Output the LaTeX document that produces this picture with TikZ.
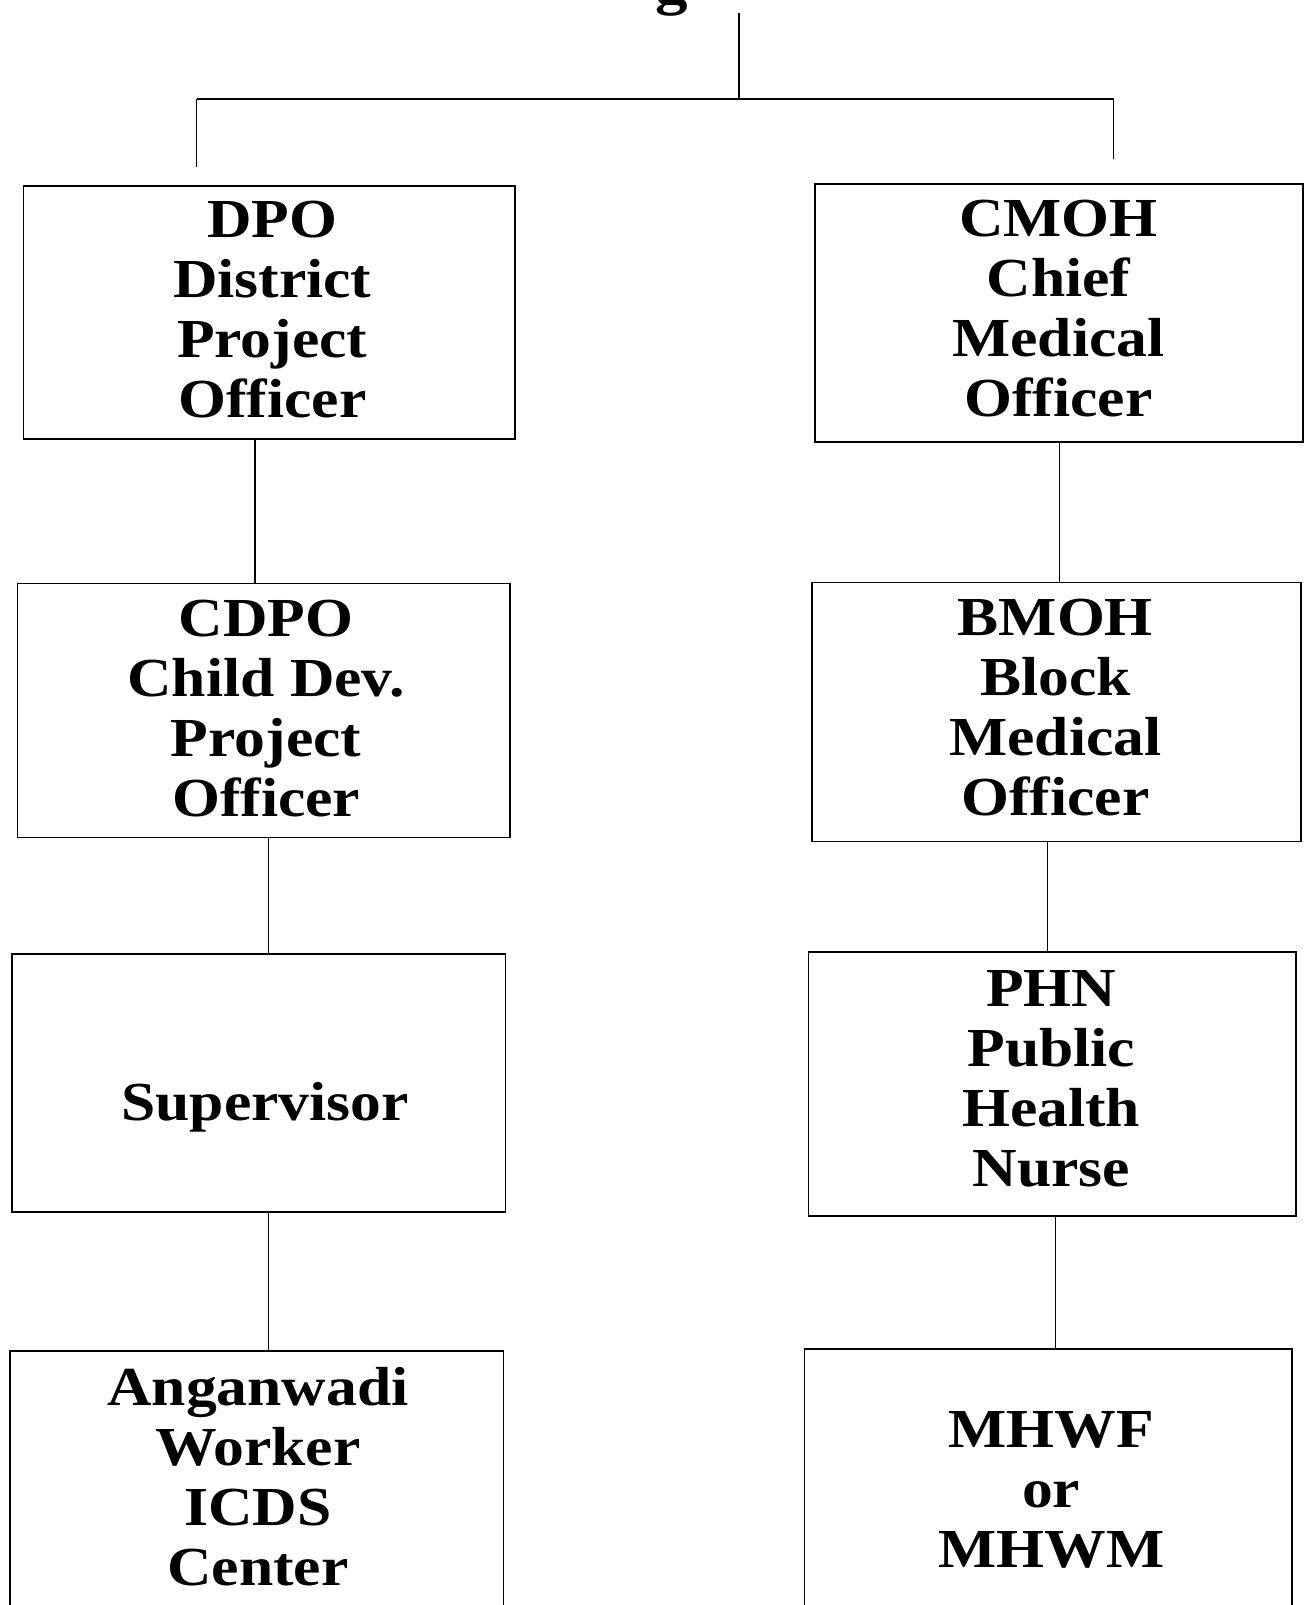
\documentclass[tikz,border=0pt]{standalone}
\usepackage{fontspec}
\setmainfont{Liberation Serif}[FakeStretch=1.12]
\usetikzlibrary{fit}
\begin{document}
\begin{tikzpicture}[x=1.0235pt,y=-1.0235pt,
  box/.style={draw, line width=1.6pt, inner sep=0pt},
  lbl/.style={font=\bfseries\fontsize{55}{60}\selectfont, align=center, inner sep=0pt},
  conn/.style={line width=1.3pt},
  bar/.style={line width=2pt},
  faint/.style={line width=0.6pt}]
\fill[white] (0,0) rectangle (1277,1568);
\useasboundingbox (0,0) rectangle (1277,1568);

% cut-off title
\node[lbl, anchor=base, font=\bfseries\fontsize{58}{60}\selectfont] (title) at (656,3) {g};

% boxes
\node[box, fit={(23,182) (503,429)}] (dpo) {};
\node[box, fit={(796,180) (1273,432)}] (cmoh) {};
\node[box, fit={(17,570) (498,818)}] (cdpo) {};
\node[box, fit={(793,569) (1271,822)}] (bmoh) {};
\node[box, fit={(12,932) (494,1184)}] (sup) {};
\node[box, fit={(790,930) (1266,1188)}] (phn) {};
\node[box, fit={(10,1320) (492,1620)}] (awc) {};
\node[box, fit={(786,1318) (1262,1620)}] (mhw) {};

% labels
\node[lbl] (dpo-t) at (266,302.5) {DPO\\District\\Project\\Officer};
\node[lbl] (cmoh-t) at (1034,301.5) {CMOH\\Chief\\Medical\\Officer};
\node[lbl] (cdpo-t) at (260,692) {CDPO\\Child Dev.\\Project\\Officer};
\node[lbl] (bmoh-t) at (1031,691) {BMOH\\Block\\Medical\\Officer};
\node[lbl] (sup-t) at (259,1082) {Supervisor};
\node[lbl] (phn-t) at (1027,1054) {PHN\\Public\\Health\\Nurse};
\node[lbl] (awc-t) at (252,1442.5) {Anganwadi\\Worker\\ICDS\\Center};
\node[lbl] (mhw-t) at (1027,1456) {MHWF\\or\\MHWM};

% top bracket
\coordinate (ttop) at (722,13);
\coordinate (barmid) at (722,97);
\coordinate (barL) at (192,97);
\coordinate (barR) at (1088,97);
\coordinate (dropL) at (192,163);
\coordinate (dropR) at (1088,155);
\draw[conn] (ttop) -- (barmid);
\draw[bar] (barL) -- (barR);
\draw[conn] (barL) -- (dropL);
\draw[faint] (barR) -- (dropR);

% vertical connectors
\coordinate (xa) at (249,0);
\coordinate (xb) at (1035,0);
\coordinate (xc) at (262,0);
\coordinate (xd) at (1023,0);
\coordinate (xe) at (262,0);
\coordinate (xf) at (1031,0);
\draw[conn] (dpo.south -| xa) -- (cdpo.north -| xa);
\draw[conn] (cmoh.south -| xb) -- (bmoh.north -| xb);
\draw[conn] (cdpo.south -| xc) -- (sup.north -| xc);
\draw[conn] (bmoh.south -| xd) -- (phn.north -| xd);
\draw[conn] (sup.south -| xe) -- (awc.north -| xe);
\draw[conn] (phn.south -| xf) -- (mhw.north -| xf);
\end{tikzpicture}
\end{document}
